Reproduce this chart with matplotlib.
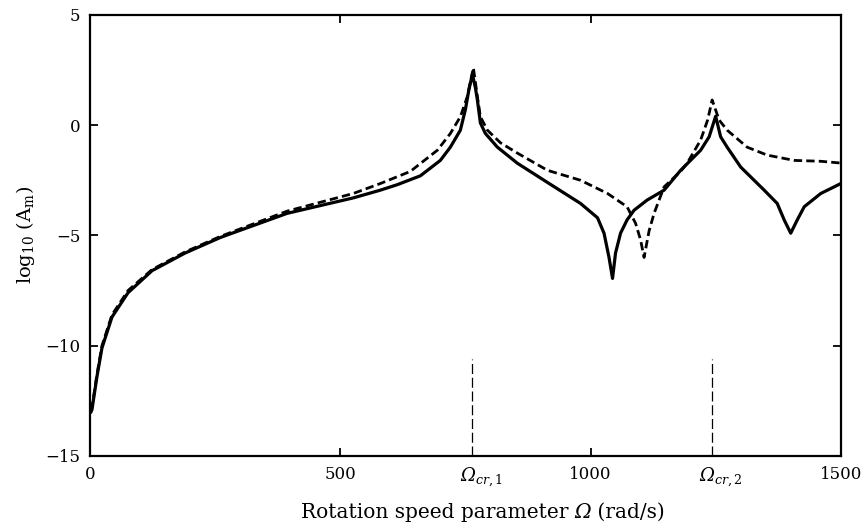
import numpy as np
import matplotlib
matplotlib.use("Agg")
import matplotlib.pyplot as plt
from matplotlib.offsetbox import TextArea, HPacker, AnchoredOffsetbox
from matplotlib.transforms import ScaledTranslation

plt.rcParams['font.family'] = ['DejaVu Serif']
plt.rcParams['mathtext.fontset'] = 'custom'
plt.rcParams['mathtext.rm'] = 'DejaVu Serif'
plt.rcParams['mathtext.it'] = 'DejaVu Serif:italic'

# solid curve
omega_solid = [2, 4, 14, 24, 44, 76, 124, 190, 260, 284, 394, 526, 580, 614, 660, 700, 720,
               740, 750, 757, 764, 770, 774, 780, 790, 814, 854, 914, 980, 1014, 1027, 1037,
               1044, 1050, 1060, 1073, 1087, 1113, 1147, 1180, 1220, 1237, 1250, 1260, 1273,
               1300, 1347, 1373, 1387, 1400, 1413, 1427, 1460, 1500]
amp_solid = [-13.0, -12.9, -11.4, -10.1, -8.7, -7.6, -6.6, -5.8, -5.1, -4.9, -4.0, -3.3, -2.95,
             -2.7, -2.3, -1.6, -1.0, -0.23, 0.7, 1.6, 2.3, 1.7, 1.14, 0.1, -0.38, -1.0, -1.73,
             -2.6, -3.55, -4.2, -4.9, -6.0, -6.95, -5.8, -4.9, -4.3, -3.86, -3.4, -2.95, -2.05,
             -1.14, -0.53, 0.4, -0.53, -1.0, -1.9, -2.95, -3.55, -4.3, -4.9, -4.3, -3.7, -3.1,
             -2.65]

# dashed curve
omega_dashed = [2, 4, 14, 24, 44, 76, 124, 190, 260, 394, 526, 580, 640, 694, 720, 740, 754,
                766, 774, 780, 794, 820, 854, 914, 980, 1034, 1073, 1090, 1100, 1107, 1117,
                1127, 1147, 1180, 1193, 1220, 1234, 1243, 1257, 1273, 1313, 1353, 1407, 1460,
                1500]
amp_dashed = [-12.9, -12.8, -11.3, -10.0, -8.6, -7.5, -6.55, -5.75, -5.05, -3.9, -3.1, -2.65,
              -2.1, -1.14, -0.38, 0.38, 1.3, 2.6, 1.3, 0.38, -0.23, -0.8, -1.27, -2.05, -2.5,
              -3.1, -3.7, -4.45, -5.2, -6.0, -4.8, -4.0, -2.8, -2.1, -1.73, -0.68, 0.23, 1.14,
              0.23, -0.23, -1.0, -1.36, -1.6, -1.64, -1.72]

critical_speeds = [764, 1242]
critical_labels = ['Ω$_{cr,\\mathrm{1}}$', 'Ω$_{cr,\\mathrm{2}}$']
x_ticks = [0, 500, 1000, 1500]
y_ticks = [-15, -10, -5, 0, 5]

fig = plt.figure(figsize=(8.65, 5.29), dpi=100)
ax = fig.add_axes([0.104, 0.138, 0.868, 0.834])

ax.plot(omega_solid, amp_solid, color='black', lw=2.3, solid_joinstyle='round')
ax.plot(omega_dashed, amp_dashed, color='black', lw=2.0, linestyle=(0, (3, 1.5)))

for cs in critical_speeds:
    ax.plot([cs, cs], [-15, -10.6], color='black', lw=0.9, linestyle=(0, (8, 3)))

ax.set_xlim(0, 1500)
ax.set_ylim(-15, 5)

ticks = x_ticks + critical_speeds
labels = [str(t) for t in x_ticks] + critical_labels
order = np.argsort(ticks)
ax.set_xticks([ticks[i] for i in order])
ax.set_xticklabels([labels[i] for i in order])
ax.set_yticks(y_ticks)
ax.set_yticklabels([str(t).replace('-', '\u2212') for t in y_ticks])

ax.tick_params(direction='in', length=6, width=1.3, top=True, right=True,
               labelsize=12, pad=7)
shift = ScaledTranslation(9 / 100, 0, fig.dpi_scale_trans)
for t, tl in zip(ax.xaxis.get_major_ticks(), [ticks[i] for i in order]):
    if tl in critical_speeds:
        t.tick1line.set_visible(False)
        t.tick2line.set_visible(False)
        t.label1.set_fontstyle('italic')
        t.label1.set_fontsize(13)
        t.label1.set_transform(t.label1.get_transform() + shift)
for s in ax.spines.values():
    s.set_linewidth(1.6)

# x label with italic Omega
parts = [TextArea("Rotation speed parameter ", textprops=dict(size=14.5)),
         TextArea("Ω", textprops=dict(size=14.5, style='italic')),
         TextArea(" (rad/s)", textprops=dict(size=14.5))]
box = HPacker(children=parts, align='baseline', pad=0, sep=0)
xlab = AnchoredOffsetbox(loc='center', child=box, pad=0, borderpad=0, frameon=False,
                         bbox_to_anchor=(0.523, -0.127), bbox_transform=ax.transAxes)
ax.add_artist(xlab)

ax.set_ylabel(r'log$_{\mathrm{10}}$ (A$_{\mathrm{m}}$)', fontsize=14, labelpad=6)

fig.savefig('out.png', dpi=100)
